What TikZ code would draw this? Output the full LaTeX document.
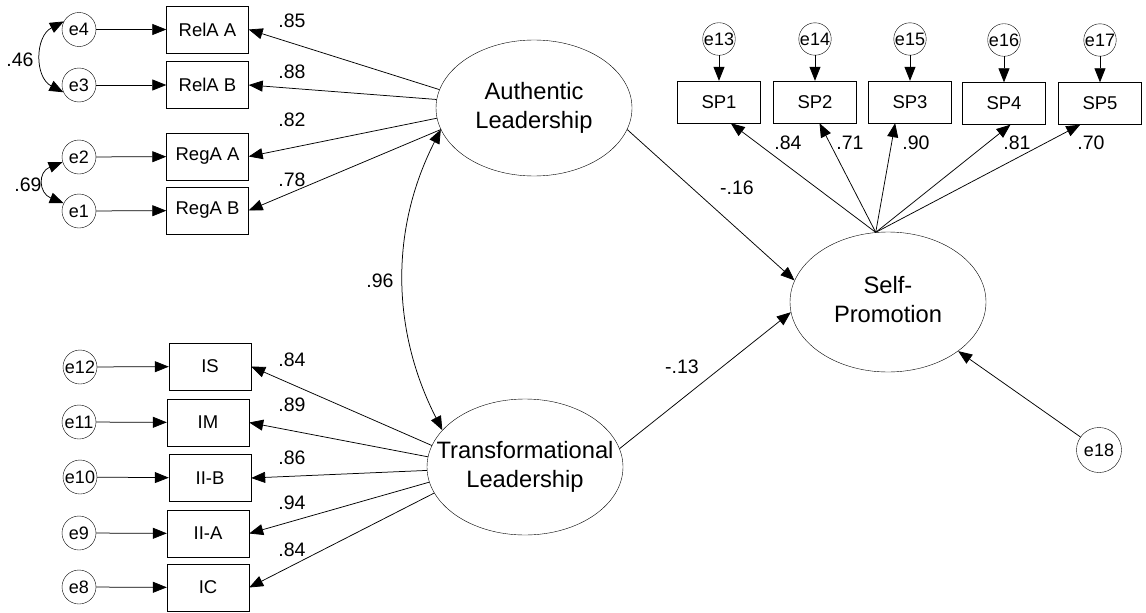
\documentclass[tikz,border=0pt]{standalone}
\usepackage{fontspec}
\setmainfont{Liberation Sans}
\usetikzlibrary{arrows.meta,shapes.geometric,calc}

% two-line label for a latent variable; zero width so the ellipse keeps its set size
\newcommand{\lattext}[2]{\makebox[0pt]{\begin{tabular}{@{}c@{}}#1\\#2\end{tabular}}}

\begin{document}
\begin{tikzpicture}[x=1pt,y=-1pt,
  every node/.style={inner sep=0pt},
  obs/.style={draw, rectangle, minimum width=82pt, minimum height=47pt,
              font=\fontsize{18.5}{22}\selectfont},
  spbox/.style={draw, rectangle, minimum width=83pt, minimum height=42pt,
              font=\fontsize{18.5}{22}\selectfont},
  err/.style={draw, circle, minimum size=34pt, font=\fontsize{18}{21}\selectfont},
  errs/.style={err, minimum size=32pt},
  lat/.style={draw, ellipse, minimum width=196pt, minimum height=136pt,
              font=\fontsize{23.7}{29}\selectfont},
  coef/.style={font=\fontsize{19.5}{23}\selectfont},
  tip/.tip={Triangle[length=14pt,width=11pt]},
  reg/.style={line width=0.75pt, -tip},
  cov/.style={line width=0.75pt, tip-tip},
]
\useasboundingbox (0,0) rectangle (1146,613);

% ---- latent variables
\node[lat] (AL) at (534,108) {\lattext{Authentic}{Leadership}};
\node[lat] (TL) at (525,467) {\lattext{Transformational}{Leadership}};
\node[lat, minimum height=140pt] (SPr) at (888,302) {\lattext{Self-}{Promotion}};

% ---- authentic leadership indicators
\node[obs] (relaa) at (207.5,29.5)  {RelA A};
\node[obs] (relab) at (207.5,85)    {RelA B};
\node[obs] (regaa) at (207.5,156.5) {RegA A};
\node[obs] (regab) at (207.5,210.5) {RegA B};
\node[err] (e4) at (79,29.5) {e4};
\node[err] (e3) at (79,85)   {e3};
\node[err] (e2) at (79,157)  {e2};
\node[err] (e1) at (79,211)  {e1};

% ---- transformational leadership indicators
\node[obs] (is)  at (210,366.5) {IS};
\node[obs] (im)  at (208,422.5) {IM};
\node[obs] (iib) at (210,478)   {II-B};
\node[obs] (iia) at (208,533.5) {II-A};
\node[obs] (ic)  at (208,587.5) {IC};
\node[err] (e12) at (80,367) {e12};
\node[err] (e11) at (79,422) {e11};
\node[err] (e10) at (80,477) {e10};
\node[err] (e9)  at (79,533) {e9};
\node[err] (e8)  at (79,587) {e8};

% ---- self-promotion indicators
\node[spbox] (sp1) at (719,102)    {SP1};
\node[spbox] (sp2) at (815,102)    {SP2};
\node[spbox] (sp3) at (910,102)    {SP3};
\node[spbox] (sp4) at (1004,103.5) {SP4};
\node[spbox] (sp5) at (1100,103.5) {SP5};
\node[errs] (e13) at (719,39)  {e13};
\node[errs] (e14) at (815,39)  {e14};
\node[errs] (e15) at (910,39)  {e15};
\node[errs] (e16) at (1004,40) {e16};
\node[errs] (e17) at (1100,40) {e17};
\node[err, minimum size=45pt] (e18) at (1099,450) {e18};

% ---- error terms
\foreach \e/\v in {e4/relaa, e3/relab, e2/regaa, e1/regab,
                   e12/is, e11/im, e10/iib, e9/iia, e8/ic,
                   e13/sp1, e14/sp2, e15/sp3, e16/sp4, e17/sp5}
  \draw[reg] (\e) -- (\v);
\draw[reg] (e18) -- (SPr.-35);

% ---- loadings
\draw[reg] (AL.169.5) -- (relaa.east);
\draw[reg] (AL.175)   -- (relab.east);
\draw[reg] (AL.186)   -- (regaa.east);
\draw[reg] (AL.193)   -- (regab.east);

\draw[reg] (TL.167)   -- (is.east);
\draw[reg] (TL.174)   -- (im.east);
\draw[reg] (TL.182)   -- (iib.east);
\draw[reg] (TL.189.5) -- (iia.east);
\draw[reg] (TL.196)   -- (ic.east);

\draw[reg] (SPr.100) -- (sp1.-61);
\draw[reg] (SPr.100) -- (sp2.-78);
\draw[reg] (SPr.100) -- (sp3.-125.5);
\draw[reg] (SPr.100) -- (sp4.-73.7);
\draw[reg] (SPr.100) -- (sp5.-133.6);

% ---- structural paths
\draw[reg] (AL.-13) -- (SPr.167);
\draw[reg] (TL.11)  -- (SPr.186.5);

% ---- covariances
\draw[cov] (AL.193) .. controls +(-51,100) and +(-51,-100) .. (TL.156);
\draw[cov] (e4.152) .. controls +(-29,15) and +(-29,-15) .. (e3.205);
\draw[cov] (e2.197) .. controls +(-25,10) and +(-25,-10) .. (e1.153);

% ---- estimates
\node[coef] (c46) at (20,60)  {.46};
\node[coef] (c69) at (28,185) {.69};
\node[coef] (c85) at (292,21)  {.85};
\node[coef] (c88) at (292,72)  {.88};
\node[coef] (c82) at (292,120) {.82};
\node[coef] (c78) at (292,180) {.78};
\node[coef] (c84a) at (292,360) {.84};
\node[coef] (c89) at (292,405) {.89};
\node[coef] (c86) at (292,458) {.86};
\node[coef] (c94) at (292,503) {.94};
\node[coef] (c84b) at (292,550) {.84};
\node[coef] (c96) at (380,281) {.96};
\node[coef] (c16) at (737,188) {-.16};
\node[coef] (c13) at (682,367) {-.13};
\node[coef] (s84) at (788,143)  {.84};
\node[coef] (s71) at (850,143)  {.71};
\node[coef] (s90) at (916,143)  {.90};
\node[coef] (s81) at (1017,143) {.81};
\node[coef] (s70) at (1091,143) {.70};
\end{tikzpicture}
\end{document}
